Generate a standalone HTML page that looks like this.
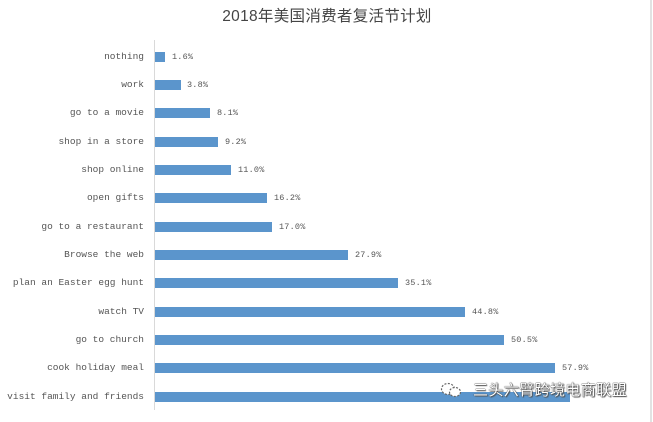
<!DOCTYPE html>
<html><head><meta charset="utf-8"><style>
html,body{margin:0;padding:0;background:#fff;}
#c{position:relative;width:653px;height:422px;overflow:hidden;background:#fff;}
.t{position:absolute;left:222px;width:210px;top:6px;text-align:center;font:15.5px "Liberation Sans","Noto Sans CJK SC",sans-serif;color:#444;letter-spacing:0.3px;white-space:nowrap;line-height:22px;}
.ax{position:absolute;left:154px;top:40px;width:1px;height:370px;background:#d9d9d9;}
.rb{position:absolute;left:650px;top:0;width:2px;height:422px;background:#e2e2e2;}
.lb{position:absolute;right:509px;font:9.5px "Liberation Mono",monospace;color:#555;white-space:nowrap;line-height:12px;}
.b{position:absolute;left:155px;height:10px;background:#5b95cc;}
.v{position:absolute;font:8.5px "Liberation Mono",monospace;color:#555;white-space:nowrap;line-height:12px;letter-spacing:0.2px;}
.wm{position:absolute;left:473px;top:380px;font:15px "Noto Sans CJK SC","WenQuanYi Zen Hei",sans-serif;color:#fff;letter-spacing:0.4px;text-shadow:0 0 1px #333,0 0 1px #333,1px 1px 1px #555;white-space:nowrap;line-height:20px;}
.ic{position:absolute;left:440px;top:382px;width:22px;height:16px;}
</style></head><body><div id="c">
<div class="t">2018年美国消费者复活节计划</div>
<div class="ax"></div>
<div class="rb"></div>

<div class="lb" style="top:50.5px">nothing</div>
<div class="b" style="top:51.5px;width:10px"></div>
<div class="v" style="top:50.5px;left:172px">1.6%</div>

<div class="lb" style="top:78.9px">work</div>
<div class="b" style="top:79.9px;width:26px"></div>
<div class="v" style="top:78.9px;left:187px">3.8%</div>

<div class="lb" style="top:107.2px">go to a movie</div>
<div class="b" style="top:108.2px;width:55px"></div>
<div class="v" style="top:107.2px;left:217px">8.1%</div>

<div class="lb" style="top:135.6px">shop in a store</div>
<div class="b" style="top:136.6px;width:63px"></div>
<div class="v" style="top:135.6px;left:225px">9.2%</div>

<div class="lb" style="top:163.9px">shop online</div>
<div class="b" style="top:164.9px;width:76px"></div>
<div class="v" style="top:163.9px;left:238px">11.0%</div>

<div class="lb" style="top:192.3px">open gifts</div>
<div class="b" style="top:193.3px;width:112px"></div>
<div class="v" style="top:192.3px;left:274px">16.2%</div>

<div class="lb" style="top:220.6px">go to a restaurant</div>
<div class="b" style="top:221.6px;width:117px"></div>
<div class="v" style="top:220.6px;left:279px">17.0%</div>

<div class="lb" style="top:249px">Browse the web</div>
<div class="b" style="top:250px;width:193px"></div>
<div class="v" style="top:249px;left:355px">27.9%</div>

<div class="lb" style="top:277.3px">plan an Easter egg hunt</div>
<div class="b" style="top:278.3px;width:243px"></div>
<div class="v" style="top:277.3px;left:405px">35.1%</div>

<div class="lb" style="top:305.7px">watch TV</div>
<div class="b" style="top:306.7px;width:310px"></div>
<div class="v" style="top:305.7px;left:472px">44.8%</div>

<div class="lb" style="top:334px">go to church</div>
<div class="b" style="top:335px;width:349px"></div>
<div class="v" style="top:334px;left:511px">50.5%</div>

<div class="lb" style="top:362.4px">cook holiday meal</div>
<div class="b" style="top:363.4px;width:400px"></div>
<div class="v" style="top:362.4px;left:562px">57.9%</div>

<div class="lb" style="top:390.7px">visit family and friends</div>
<div class="b" style="top:391.7px;width:415px"></div>

<svg class="ic" viewBox="0 0 22 16"><ellipse cx="8" cy="7" rx="6.5" ry="5.5" fill="#fff" stroke="#666" stroke-width="1.2" stroke-dasharray="2 1.5"/><ellipse cx="15" cy="10" rx="5.5" ry="4.5" fill="#fff" stroke="#666" stroke-width="1.2" stroke-dasharray="2 1.5"/></svg>
<div class="wm">三头六臂跨境电商联盟</div>
</div></body></html>
